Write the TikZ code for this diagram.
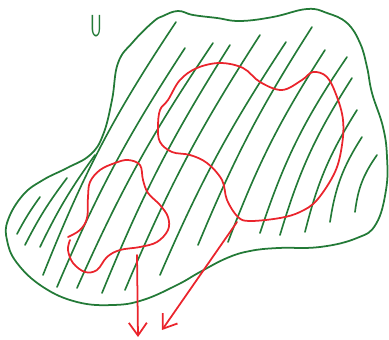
\documentclass[tikz,border=0pt]{standalone}
\usetikzlibrary{arrows.meta}
\definecolor{sketchgreen}{RGB}{35,122,55}
\definecolor{sketchred}{RGB}{234,36,44}

\begin{document}
\begin{tikzpicture}[x=0.03cm,y=-0.03cm,line cap=round,line join=round,
  outline/.style={draw=sketchgreen,line width=1.5pt},
  hatch/.style={draw=sketchgreen,line width=1.4pt},
  redloop/.style={draw=sketchred,line width=1.5pt},
  redarrow/.style={draw=sketchred,line width=1.5pt,-{Straight Barb[length=3.8mm,width=5.4mm,line width=1.5pt]}}]
\useasboundingbox (0,0) rectangle (389,340);
% the set U
\draw[outline] plot[smooth cycle,tension=0.7] coordinates {(163,16) (178,11) (193,15) (217,18) (240,21) (273,17) (307,9) (327,13) (347,23) (360,43) (367,67) (372,93) (383,127) (387,157) (386,190) (376,224) (357,238) (320,247) (278,248) (250,251) (227,258) (200,272) (177,285) (143,300) (113,305) (77,302) (43,287) (17,263) (7,240) (8,220) (23,195) (43,180) (67,168) (90,155) (103,135) (112,100) (118,63) (133,42) (153,22)};
\node[text=sketchgreen,font=\fontsize{26}{26}\selectfont\sffamily,xscale=0.6,transform shape] (ulabel) at (96,26) {U};
% hatching
\foreach \bx/\by/\tx/\ty/\b in {17/234/40/197/4,25/245/67/178/5,40/247/95/155/5,43/275/176/22/6,57/287/185/48/5,77/288/213/43/5,102/293/230/45/5,125/290/260/35/5,160/275/286/42/5,198/245/312/27/5,228/242/325/50/6,260/233/347/57/8,280/235/352/78/8,305/232/357/110/9,330/222/362/137/12,355/212/377/155/14}
  \draw[hatch] (\bx,\by) to[bend left=\b] (\tx,\ty);
% the two red pieces
\draw[redloop] plot[smooth cycle,tension=0.6] coordinates {(168,100) (180,80) (197,68) (220,63) (243,68) (260,82) (282,90) (302,80) (313,72) (327,77) (337,97) (343,120) (342,145) (335,172) (317,200) (300,212) (280,218) (250,221) (238,217) (227,200) (222,180) (207,163) (190,155) (172,152) (160,142) (158,127) (160,110)};
\draw[redloop] plot[smooth,tension=0.6] coordinates {(68,237) (80,230) (87,218) (88,197) (90,182) (100,170) (115,163) (128,160) (140,165) (143,180) (148,193) (160,205) (168,217) (168,230) (157,242) (140,247) (120,250) (107,257) (97,270) (85,272) (73,263) (68,250) (70,240)};
% arrows
\coordinate (smallstart) at (137,255);
\coordinate (smallend) at (138,337);
\coordinate (bigstart) at (237,222);
\coordinate (bigend) at (162,330);
\draw[redarrow] (smallstart) -- (smallend);
\draw[redarrow] (bigstart) -- (bigend);
\end{tikzpicture}
\end{document}
